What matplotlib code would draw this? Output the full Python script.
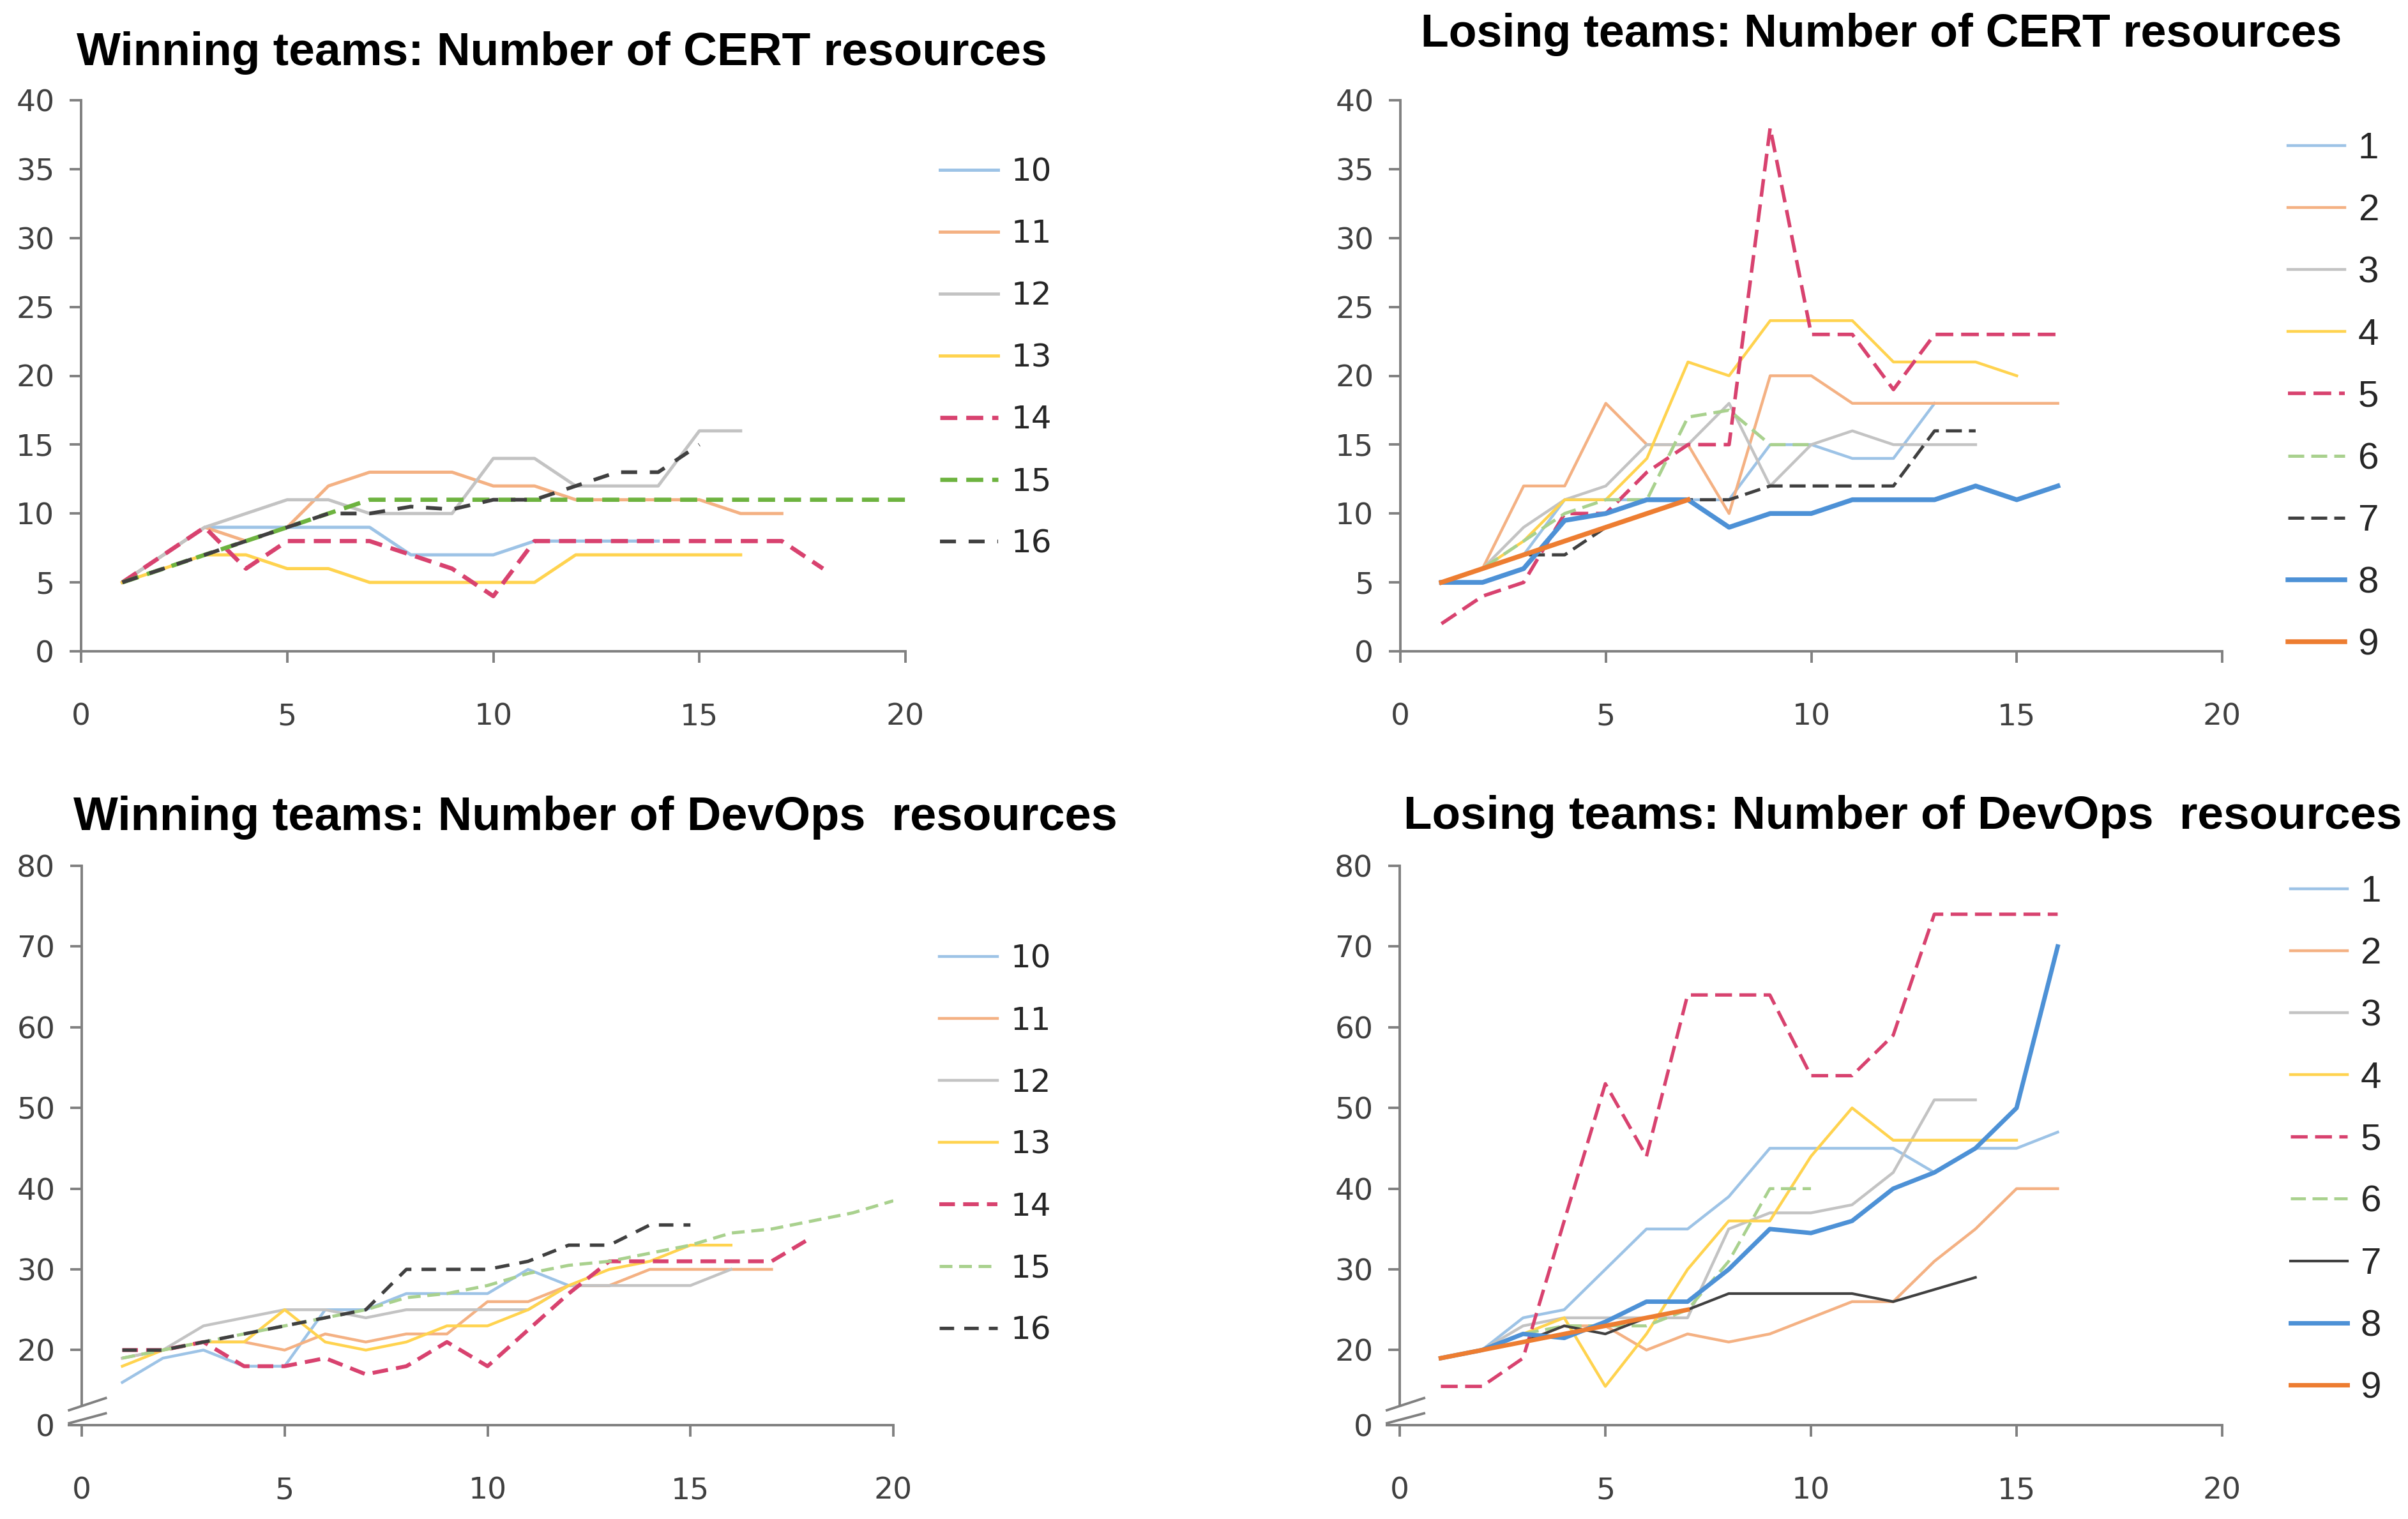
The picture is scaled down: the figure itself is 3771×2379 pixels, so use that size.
import matplotlib
matplotlib.use("Agg")
import matplotlib.pyplot as plt
from matplotlib import font_manager

# values per round, x starts at 1
win_cert_10 = [5, 7, 9, 9, 9, 9, 9, 7, 7, 7, 8, 8, 8, 8]
win_cert_11 = [5, 7, 9, 8, 9, 12, 13, 13, 13, 12, 12, 11, 11, 11, 11, 10, 10]
win_cert_12 = [5, 7, 9, 10, 11, 11, 10, 10, 10, 14, 14, 12, 12, 12, 16, 16]
win_cert_13 = [5, 6, 7, 7, 6, 6, 5, 5, 5, 5, 5, 7, 7, 7, 7, 7]
win_cert_14 = [5, 7, 9, 6, 8, 8, 8, 7, 6, 4, 8, 8, 8, 8, 8, 8, 8, 6]
win_cert_15 = [5, 6, 7, 8, 9, 10, 11, 11, 11, 11, 11, 11, 11, 11, 11, 11, 11, 11, 11, 11]
win_cert_16 = [5, 6, 7, 8, 9, 10, 10, 10.5, 10.3, 11, 11, 12, 13, 13, 15]

lose_cert_1 = [5, 6, 7, 11, 11, 11, 11, 11, 15, 15, 14, 14, 18]
lose_cert_2 = [5, 6, 12, 12, 18, 15, 15, 10, 20, 20, 18, 18, 18, 18, 18, 18]
lose_cert_3 = [5, 6, 9, 11, 12, 15, 15, 18, 12, 15, 16, 15, 15, 15]
lose_cert_4 = [5, 6, 8, 11, 11, 14, 21, 20, 24, 24, 24, 21, 21, 21, 20]
lose_cert_5 = [2, 4, 5, 10, 10, 13, 15, 15, 38, 23, 23, 19, 23, 23, 23, 23]
lose_cert_6 = [5, 6, 8, 10, 11, 11, 17, 17.5, 15, 15]
lose_cert_7 = [5, 6, 7, 7, 9, 10, 11, 11, 12, 12, 12, 12, 16, 16]
lose_cert_8 = [5, 5, 6, 9.5, 10, 11, 11, 9, 10, 10, 11, 11, 11, 12, 11, 12]
lose_cert_9 = [5, 6, 7, 8, 9, 10, 11]

win_dev_10 = [16, 19, 20, 18, 18, 25, 25, 27, 27, 27, 30, 28, 28]
win_dev_11 = [19, 20, 21, 21, 20, 22, 21, 22, 22, 26, 26, 28, 28, 30, 30, 30, 30]
win_dev_12 = [19, 20, 23, 24, 25, 25, 24, 25, 25, 25, 25, 28, 28, 28, 28, 30]
win_dev_13 = [18, 20, 21, 21, 25, 21, 20, 21, 23, 23, 25, 28, 30, 31, 33, 33]
win_dev_14 = [20, 20, 21, 18, 18, 19, 17, 18, 21, 18, 22.5, 27, 31, 31, 31, 31, 31, 34]
win_dev_15 = [19, 20, 21, 22, 23, 24, 25, 26.5, 27, 28, 29.5, 30.5, 31, 32, 33, 34.5, 35, 36, 37, 38.5]
win_dev_16 = [20, 20, 21, 22, 23, 24, 25, 30, 30, 30, 31, 33, 33, 35.5, 35.5]

lose_dev_1 = [19, 20, 24, 25, 30, 35, 35, 39, 45, 45, 45, 45, 42, 45, 45, 47]
lose_dev_2 = [19, 20, 21, 23, 23, 20, 22, 21, 22, 24, 26, 26, 31, 35, 40, 40]
lose_dev_3 = [19, 20, 23, 24, 24, 24, 24, 35, 37, 37, 38, 42, 51, 51]
lose_dev_4 = [19, 20, 22, 24, 15.5, 22, 30, 36, 36, 44, 50, 46, 46, 46, 46]
lose_dev_5 = [15.5, 15.5, 19, 36, 53, 44, 64, 64, 64, 54, 54, 59, 74, 74, 74, 74]
lose_dev_6 = [19, 20, 22, 23, 23, 23, 25, 31, 40, 40]
lose_dev_7 = [19, 20, 21, 23, 22, 24, 25, 27, 27, 27, 27, 26, 27.5, 29]
lose_dev_8 = [19, 20, 22, 21.5, 23.5, 26, 26, 30, 35, 34.5, 36, 40, 42, 45, 50, 70]
lose_dev_9 = [19, 20, 21, 22, 23, 24, 25]

win_labels = ['10', '11', '12', '13', '14', '15', '16']
lose_labels = ['1', '2', '3', '4', '5', '6', '7', '8', '9']
cert_ticks = [0, 5, 10, 15, 20, 25, 30, 35, 40]
dev_ticks = [10.7, 20, 30, 40, 50, 60, 70, 80]
dev_tick_labels = ['0', '20', '30', '40', '50', '60', '70', '80']

installed = {f.name for f in font_manager.fontManager.ttflist}
NARROW = 'Liberation Sans Narrow' if 'Liberation Sans Narrow' in installed else 'Liberation Sans'
plt.rcParams['font.family'] = 'DejaVu Sans'

LBLUE, LORANGE, GREY, YELLOW = '#9DC3E6', '#F4B183', '#C3C3C3', '#FFD34F'
PINK, LGREEN, DGREEN, DARK = '#D8426F', '#A9D18E', '#6DB33F', '#404040'
BLUE, ORANGE = '#4D91D6', '#ED7D31'
AXIS, TXT = '#808080', '#404040'

W, H = 3771, 2379
fig = plt.figure(figsize=(W / 100, H / 100), dpi=100)


def px_axes(left, top, right, bottom):
    return fig.add_axes([left / W, 1 - bottom / H, (right - left) / W, (bottom - top) / H])


def draw_lines(ax, series):
    for lab, vals, color, lw, dash in series:
        x = list(range(1, len(vals) + 1))
        if dash is None:
            ax.plot(x, vals, color=color, lw=lw, label=lab, solid_joinstyle='round')
        else:
            ax.plot(x, vals, color=color, lw=lw, label=lab, ls='--', dashes=dash,
                    dash_capstyle='butt', dash_joinstyle='round')


def style_axes(ax, ylim, yticks, ylabels):
    ax.set_xlim(0, 20)
    ax.set_ylim(*ylim)
    ax.set_xticks(range(0, 21, 5))
    ax.set_yticks(yticks)
    ax.set_yticklabels(ylabels)
    for s in ('top', 'right'):
        ax.spines[s].set_visible(False)
    for s in ('left', 'bottom'):
        ax.spines[s].set_color(AXIS)
        ax.spines[s].set_linewidth(2.8)
    ax.tick_params(axis='both', colors=AXIS, labelcolor=TXT, labelsize=34,
                   width=2.8, length=13, direction='out')
    ax.tick_params(axis='x', pad=45)
    ax.tick_params(axis='y', pad=17)


def add_legend(ax, anchor, family, size, hl, htp, spacing):
    leg = ax.legend(loc='upper left', bbox_to_anchor=anchor, frameon=False,
                    prop={'family': family, 'size': size}, handlelength=hl,
                    handletextpad=htp, labelspacing=spacing, borderaxespad=0, borderpad=0)
    for t in leg.get_texts():
        t.set_color('#262626')


def axis_break(ax):
    y0 = ax.get_ylim()[0]
    ax.spines['left'].set_bounds(13.2, 80)
    kw = dict(color=AXIS, lw=2.8, clip_on=False, solid_capstyle='butt')
    ax.plot([-0.34, 0.62], [12.5, 14.1], **kw)
    ax.plot([-0.34, 0.62], [10.9, 12.2], **kw)
    ax.plot([-0.34, 0], [y0, y0], **kw)


def add_title(x0, baseline, width_px, text):
    t = fig.text(x0 / W, 1 - baseline / H, text, fontsize=50, fontweight='bold',
                 family=NARROW, ha='left', va='baseline', color='black')
    r = fig.canvas.get_renderer()
    w = t.get_window_extent(r).width
    t.set_fontsize(50 * width_px / w)


# --- top left: winning teams, CERT
ax = px_axes(127, 157, 1418, 1020)
draw_lines(ax, [
    (win_labels[0], win_cert_10, LBLUE, 3.6, None),
    (win_labels[1], win_cert_11, LORANGE, 3.6, None),
    (win_labels[2], win_cert_12, GREY, 3.6, None),
    (win_labels[3], win_cert_13, YELLOW, 3.6, None),
    (win_labels[4], win_cert_14, PINK, 4.8, (4, 2.1)),
    (win_labels[5], win_cert_15, DGREEN, 4.8, (4, 2.1)),
    (win_labels[6], win_cert_16, DARK, 4.2, (4.3, 3.4)),
])
style_axes(ax, (0, 40), cert_ticks, [str(v) for v in cert_ticks])
add_legend(ax, (1.042, 0.898), 'DejaVu Sans', 36, 1.82, 0.4, 0.98)

# --- top right: losing teams, CERT
ax = px_axes(2193, 157, 3480, 1020)
draw_lines(ax, [
    (lose_labels[0], lose_cert_1, LBLUE, 3.2, None),
    (lose_labels[1], lose_cert_2, LORANGE, 3.2, None),
    (lose_labels[2], lose_cert_3, GREY, 3.2, None),
    (lose_labels[3], lose_cert_4, YELLOW, 3.2, None),
    (lose_labels[4], lose_cert_5, PINK, 4.0, (5, 2.2)),
    (lose_labels[5], lose_cert_6, LGREEN, 3.6, (5, 2.2)),
    (lose_labels[6], lose_cert_7, DARK, 3.6, (5, 2.2)),
    (lose_labels[7], lose_cert_8, BLUE, 5.4, None),
    (lose_labels[8], lose_cert_9, ORANGE, 5.4, None),
])
style_axes(ax, (0, 40), cert_ticks, [str(v) for v in cert_ticks])
add_legend(ax, (1.080, 0.943), NARROW, 42, 1.52, 0.36, 0.74)

# --- bottom left: winning teams, DevOps
ax = px_axes(128, 1356, 1399, 2232)
draw_lines(ax, [
    (win_labels[0], win_dev_10, LBLUE, 3.2, None),
    (win_labels[1], win_dev_11, LORANGE, 3.2, None),
    (win_labels[2], win_dev_12, GREY, 3.2, None),
    (win_labels[3], win_dev_13, YELLOW, 3.2, None),
    (win_labels[4], win_dev_14, PINK, 4.4, (4, 2.1)),
    (win_labels[5], win_dev_15, LGREEN, 3.6, (4, 2.1)),
    (win_labels[6], win_dev_16, DARK, 3.8, (4.3, 3.0)),
])
style_axes(ax, (10.7, 80), dev_ticks, dev_tick_labels)
axis_break(ax)
add_legend(ax, (1.057, 0.861), 'DejaVu Sans', 36, 1.82, 0.4, 0.98)

# --- bottom right: losing teams, DevOps
ax = px_axes(2192, 1356, 3480, 2232)
draw_lines(ax, [
    (lose_labels[0], lose_dev_1, LBLUE, 3.2, None),
    (lose_labels[1], lose_dev_2, LORANGE, 3.2, None),
    (lose_labels[2], lose_dev_3, GREY, 3.2, None),
    (lose_labels[3], lose_dev_4, YELLOW, 3.2, None),
    (lose_labels[4], lose_dev_5, PINK, 3.8, (5, 2.2)),
    (lose_labels[5], lose_dev_6, LGREEN, 3.4, (5, 2.2)),
    (lose_labels[6], lose_dev_7, DARK, 3.0, None),
    (lose_labels[7], lose_dev_8, BLUE, 5.0, None),
    (lose_labels[8], lose_dev_9, ORANGE, 5.0, None),
])
style_axes(ax, (10.7, 80), dev_ticks, dev_tick_labels)
axis_break(ax)
add_legend(ax, (1.083, 0.984), NARROW, 42, 1.52, 0.36, 0.74)

add_title(120, 102, 1520, 'Winning teams: Number of CERT resources')
add_title(2225, 73, 1443, 'Losing teams: Number of CERT resources')
add_title(115, 1300, 1636, 'Winning teams: Number of DevOps  resources')
add_title(2198, 1298, 1564, 'Losing teams: Number of DevOps  resources')

fig.savefig('out.png', dpi=100)
